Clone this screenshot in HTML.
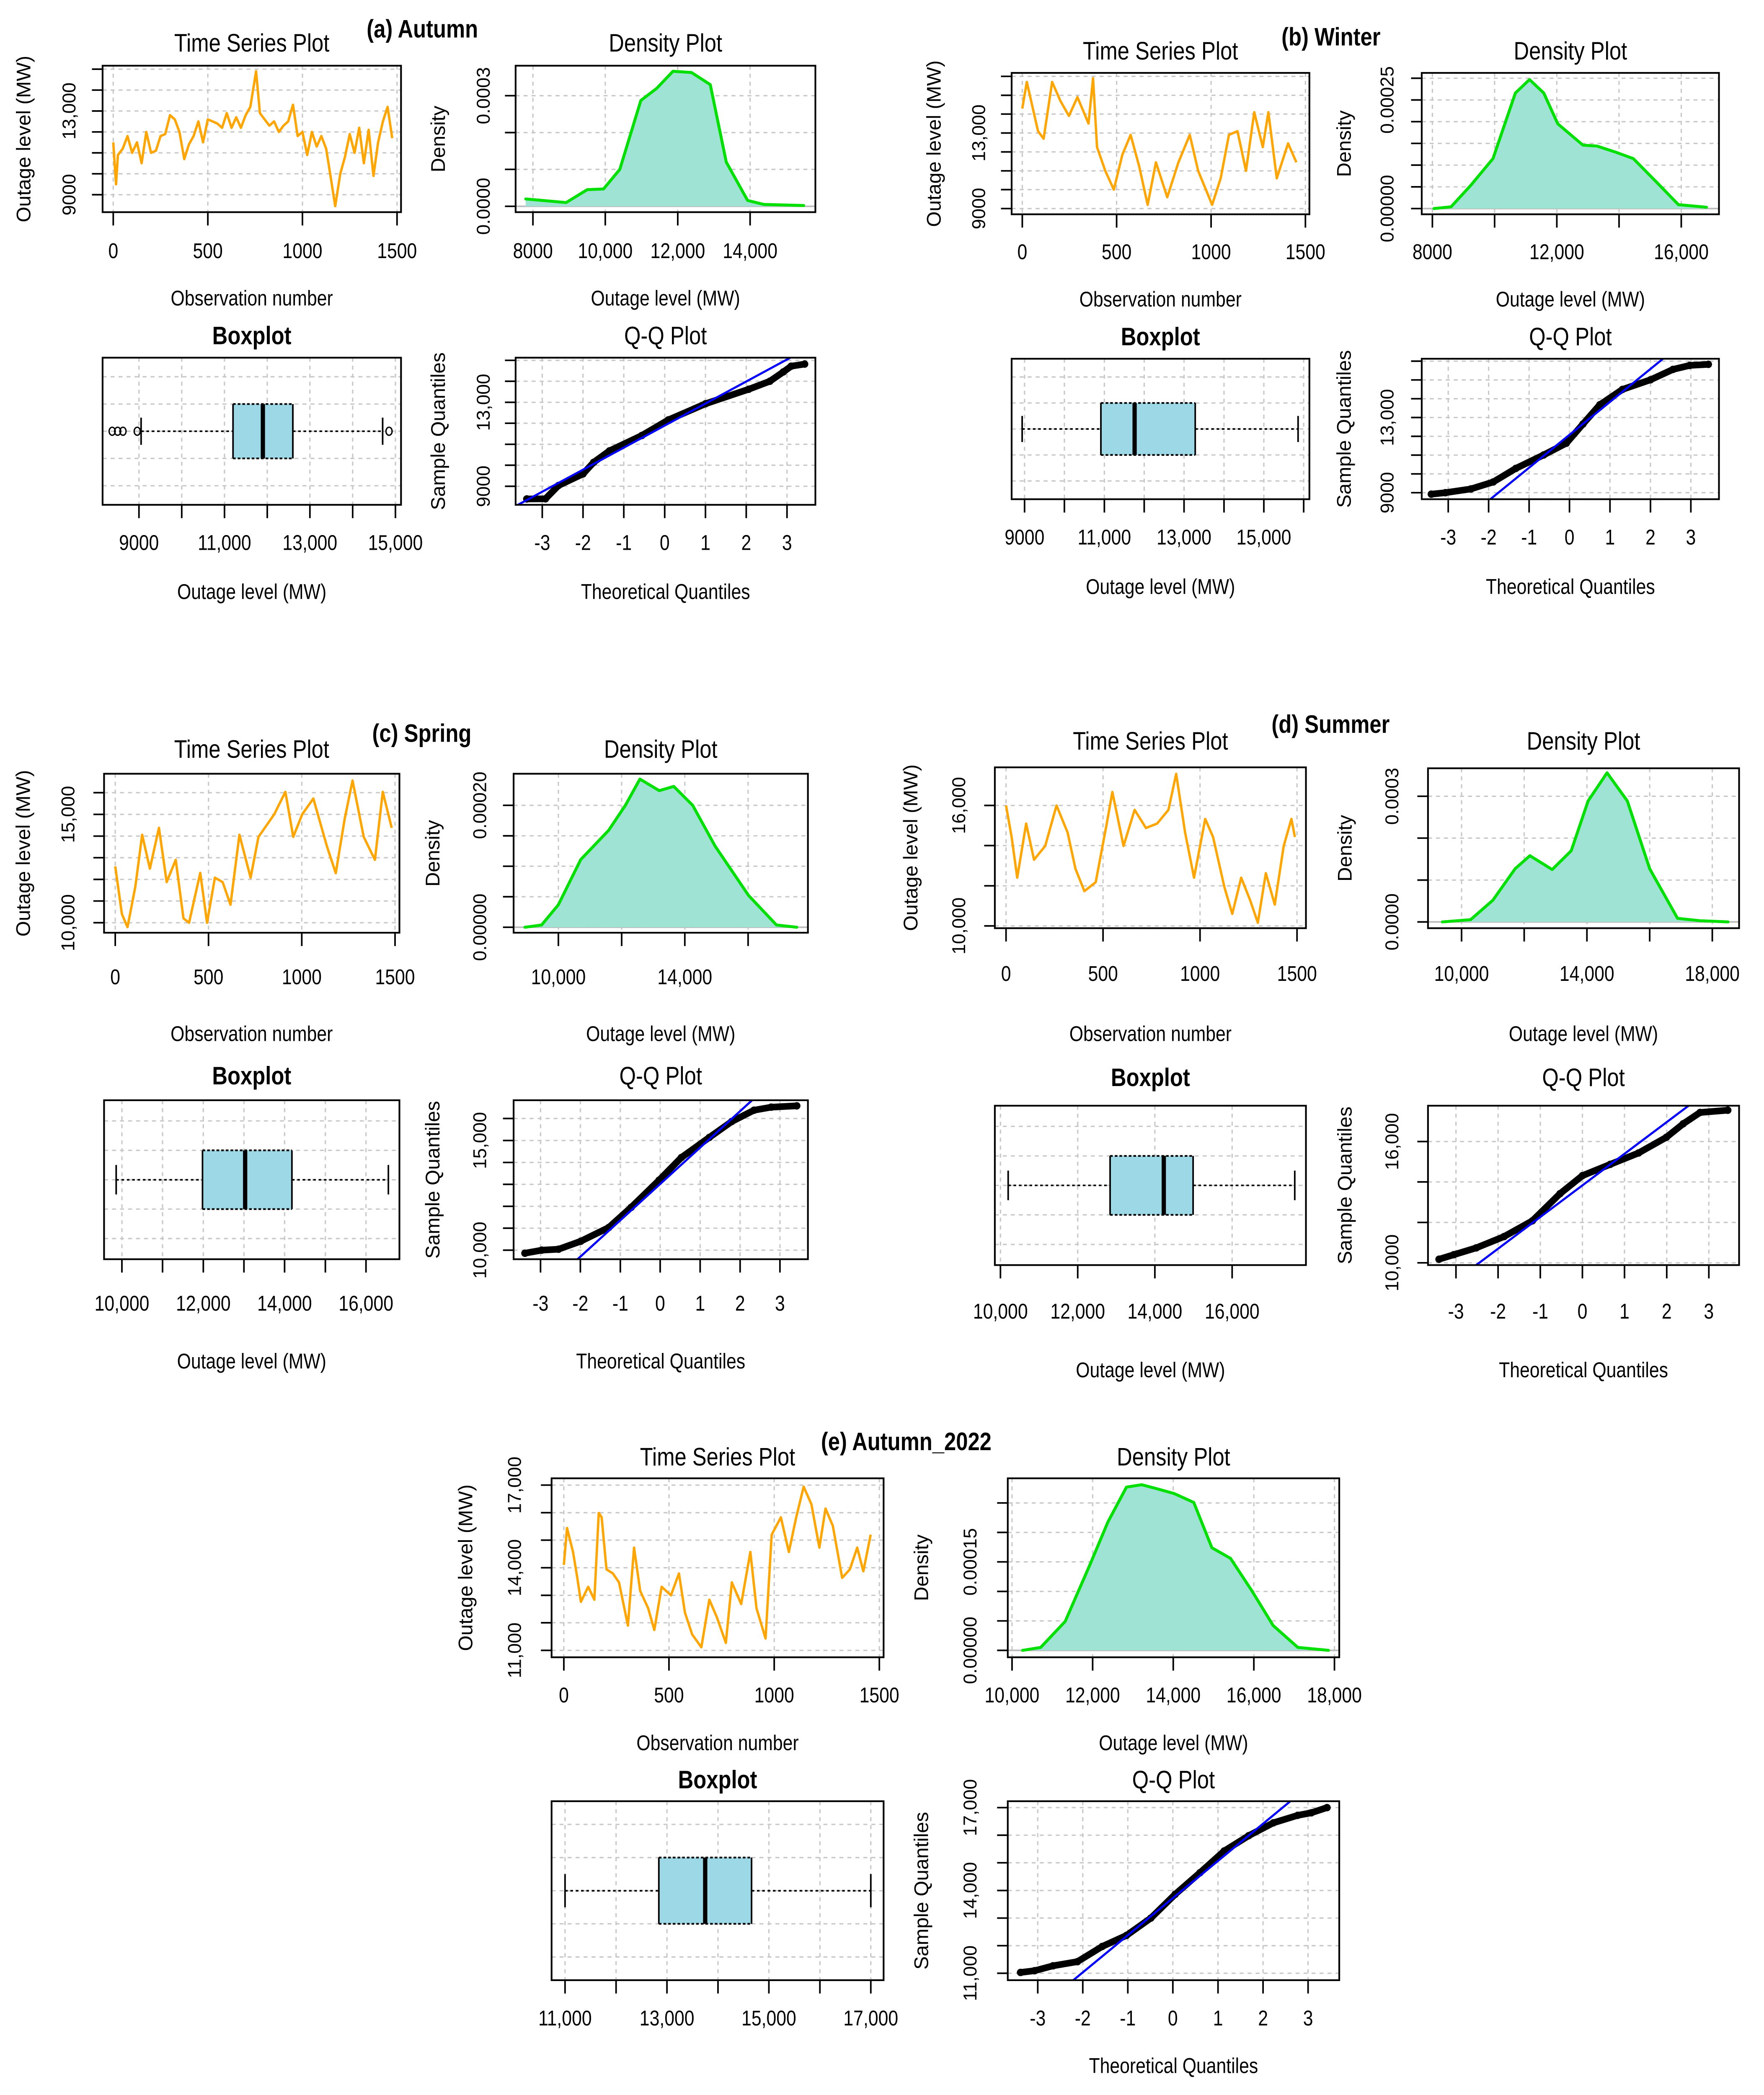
<!DOCTYPE html>
<html style="margin:0;padding:0;width:4211px;height:5010px;overflow:hidden"><head><meta charset="utf-8"><title>Outage level panels</title>
<style>html,body{margin:0;padding:0;background:#fff;overflow:hidden;width:4211px;height:5010px;position:relative}svg{display:block;position:absolute;left:0;top:0;overflow:hidden}</style></head>
<body>
<svg id="fig" xmlns="http://www.w3.org/2000/svg" width="4211" height="5010" viewBox="0 0 1324 1575.2" preserveAspectRatio="none"><rect x="0" y="0" width="1324" height="1575" fill="#fff"/></svg>
<script>
// ---------- DATA ----------
const tsA_obs=[0,15,25,50,75,100,125,150,175,200,225,250,275,300,325,350,375,400,425,450,475,500,525,550,575,600,625,650,675,700,725,755,775,800,825,850,875,900,925,950,975,1000,1025,1050,1075,1100,1125,1150,1173,1200,1225,1250,1275,1300,1325,1350,1375,1400,1425,1450,1475];
const tsA_val=[11500,9500,10900,11200,11800,11000,11500,10500,12000,11000,11100,11800,11900,12800,12600,12000,10700,11400,11800,12500,11500,12600,12500,12400,12200,12900,12200,12700,12200,12800,13200,14900,12900,12600,12300,12500,12000,12300,12500,13300,11800,12000,10900,12000,11300,11800,11200,9800,8450,10000,10800,11900,11000,12200,10500,12100,9900,11500,12500,13200,11700];
const denA_x=[7800,8915,9500,9950,10400,10980,11420,11870,12380,12900,13340,13930,14380,15480];
const denA_y=[0.00002,0.00001,0.000045,0.000047,0.0001,0.000287,0.00032,0.000366,0.000363,0.00033,0.00012,0.000016,0.000005,0.000002];
const boxA_stats=[9050,11200,11900,12600,14700];
const boxA_out=[8375,8500,8625,8960,14850];
const qqA_q=[-3.38,-2.92,-2.6,-2.0,-1.74,-1.35,-0.56,0.09,1.0,2.06,2.58,2.91,3.1,3.43];
const qqA_v=[8395,8400,9040,9590,10140,10690,11420,12160,12930,13620,14000,14450,14720,14820];
const qqA_line=[11890,1050];

const tsB_obs=[0,24,83,113,158,202,247,292,351,375,396,440,485,530,574,619,664,708,768,827,887,932,1006,1051,1095,1140,1185,1229,1274,1304,1348,1408,1452];
const tsB_val=[14300,15700,13100,12700,15700,14700,13900,14900,13500,15900,12250,11000,10000,11850,12900,11240,9200,11450,9600,11450,12900,11000,9200,10600,12900,13100,11000,14100,12250,14100,10600,12450,11450];
const denB_x=[8050,8600,9230,9950,10670,11120,11580,12030,12840,13290,13920,14460,15190,15910,16810];
const denB_y=[0,0.000004,0.000053,0.000115,0.000266,0.000297,0.000266,0.000195,0.000146,0.000144,0.000129,0.000115,0.000062,0.000009,0.000003];
const boxB_stats=[8940,10915,11760,13280,15860];
const boxB_out=[];
const qqB_q=[-3.42,-3.07,-2.44,-1.89,-1.33,-0.64,-0.08,0.33,0.75,1.31,2.0,2.56,2.97,3.43];
const qqB_v=[8920,9000,9200,9570,10290,11010,11630,12650,13680,14500,15010,15560,15770,15830];
const qqB_line=[12080,1750];

const tsC_obs=[0,36,66,108,144,186,234,276,324,366,396,456,492,534,576,618,666,726,768,852,912,954,1002,1062,1134,1182,1230,1272,1332,1392,1434,1482];
const tsC_val=[12600,10400,9800,11670,14060,12500,14380,11875,12900,10200,10000,12300,10000,12080,11875,10830,14060,12080,13960,15000,16040,13960,15000,15730,13540,12290,14790,16560,13960,12900,16040,14380];
const denC_x=[8940,9470,10000,10710,11590,12120,12580,13190,13650,14250,14960,16020,16900,17540];
const denC_y=[0,0.0000037,0.000037,0.000111,0.000159,0.0002,0.000243,0.000224,0.000231,0.0002,0.000133,0.000052,0.0000037,0];
const boxC_stats=[9860,11980,13030,14180,16550];
const boxC_out=[];
const qqC_q=[-3.39,-2.97,-2.55,-1.99,-1.29,-0.73,-0.03,0.53,1.23,1.79,2.35,2.78,3.42];
const qqC_v=[9860,10000,10040,10410,11030,11950,13190,14220,15140,15860,16380,16520,16580];
const qqC_line=[13020,1657];

const tsD_obs=[0,29,58,104,144,202,260,317,358,404,462,519,548,606,663,721,779,837,877,923,969,1027,1067,1125,1166,1212,1258,1298,1339,1385,1431,1471,1489];
const tsD_val=[16000,14430,12400,15100,13300,13980,16000,14650,12850,11730,12180,15100,16670,13980,15780,14880,15100,15780,17570,14650,12400,15330,14430,11960,10600,12400,11280,10160,12630,11060,13980,15330,14430];
const denD_x=[9390,10290,11000,11710,12180,12890,13500,14040,14640,15290,16000,16890,17610,18500];
const denD_y=[0,0.0000054,0.000052,0.000127,0.000158,0.000125,0.00017,0.000289,0.000356,0.000289,0.000127,0.0000086,0.000003,0];
const boxD_stats=[10200,12840,14230,14990,17620];
const boxD_out=[];
const qqD_q=[-3.4,-3.05,-2.52,-1.86,-1.19,-0.53,0,0.66,1.33,1.99,2.39,2.79,3.45];
const qqD_v=[10180,10400,10740,11300,12080,13420,14310,14870,15430,16210,16880,17440,17550];
const qqD_line=[13830,1565];

const tsE_obs=[0,15,44,64,81,116,145,166,180,203,233,262,305,334,363,401,430,465,509,547,576,610,654,692,727,770,799,843,887,916,959,988,1032,1070,1105,1140,1177,1215,1244,1279,1323,1360,1395,1424,1459];
const tsE_val=[14100,15440,14570,13630,12760,13310,12840,15990,15830,13940,13790,13470,11900,14730,13160,12530,11740,13310,13000,13790,12370,11580,11110,12840,12210,11270,13470,12680,14570,12530,11430,15200,15830,14570,15830,16940,16310,14730,16150,15520,13630,13940,14730,13870,15200];
const denE_x=[10260,10710,11320,11930,12380,12840,13220,13600,14020,14510,14960,15420,15950,16480,17090,17850];
const denE_y=[0,0.000005,0.000049,0.000145,0.000218,0.000277,0.000281,0.000274,0.000266,0.000251,0.000174,0.000156,0.000101,0.000042,0.000005,0];
const boxE_stats=[11000,12840,13750,14660,17000];
const boxE_out=[];
const qqE_q=[-3.38,-3.07,-2.66,-2.12,-1.57,-1.03,-0.49,0.05,0.6,1.14,1.68,2.23,2.77,3.07,3.42];
const qqE_v=[11030,11090,11270,11420,11970,12370,13000,13860,14640,15430,15980,16450,16720,16810,17000];
const qqE_line=[13725,1346];

const qTicks=[-3,-2,-1,0,1,2,3];
const qLabels=['-3','-2','-1','0','1','2','3'];
const obsTicks=[0,500,1000,1500];
const obsLabels=['0','500','1000','1500'];

// ---------- DRAWING ----------
const NS='http://www.w3.org/2000/svg';
const NARROW='"Liberation Sans Narrow","Liberation Sans",sans-serif';
const REG='"Liberation Sans",sans-serif';
const svg=document.getElementById('fig');
let clipN=0;
function mk(tag,parent){const e=document.createElementNS(NS,tag);parent.appendChild(e);return e;}
function sc(d){const[v0,p0,v1,p1]=d;return v=>p0+(v-v0)*(p1-p0)/(v1-v0);}
function inv(d){const[v0,p0,v1,p1]=d;return p=>v0+(p-p0)*(v1-v0)/(p1-p0);}
function fmt(n){return n.toFixed(1);}
function line(p,x1,y1,x2,y2,stroke,w,dash,name){
  const e=mk('line',p);
  
  
  e.setAttribute('x1',fmt(x1));e.setAttribute('y1',fmt(y1));e.setAttribute('x2',fmt(x2));e.setAttribute('y2',fmt(y2));
  e.setAttribute('stroke',stroke);e.setAttribute('stroke-width',w);if(dash)e.setAttribute('stroke-dasharray',dash);
  return e;
}
function text(p,x,y,s,size,fam,weight,rot,name){
  const e=mk('text',p);
  
  
  e.setAttribute('x',fmt(x));e.setAttribute('y',fmt(y));
  e.setAttribute('font-size',size);e.setAttribute('font-family',fam);
  if(weight)e.setAttribute('font-weight',weight);
  e.setAttribute('text-anchor','middle');e.setAttribute('dominant-baseline','central');
  if(rot)e.setAttribute('transform','rotate(-90 '+fmt(x)+' '+fmt(y)+')');
  else if(fam===NARROW)e.setAttribute('transform','translate('+fmt(x)+' 0) scale(0.84 1) translate('+fmt(-x)+' 0)');
  e.textContent=s;return e;
}
function frame(g,L){
  const b=L.box;const r=mk('rect',g);
  
  
  r.setAttribute('x',b[0]);r.setAttribute('y',b[1]);r.setAttribute('width',fmt(b[2]-b[0]));r.setAttribute('height',fmt(b[3]-b[1]));
  r.setAttribute('fill','none');r.setAttribute('stroke','#000');r.setAttribute('stroke-width',1.3);
}
function clip(g,L){
  const b=L.box;const id='c'+(clipN++);
  const cp=mk('clipPath',g);cp.setAttribute('id',id);
  const r=mk('rect',cp);r.setAttribute('x',b[0]);r.setAttribute('y',b[1]);r.setAttribute('width',b[2]-b[0]);r.setAttribute('height',b[3]-b[1]);
  const cg=mk('g',g);cg.setAttribute('clip-path','url(#'+id+')');
  
  
  return cg;
}
function xAxis(g,L,sx,ticks,labels,grid){
  const b=L.box;
  ticks.forEach((t,i)=>{const x=sx(t);
    if(grid)line(g,x,b[1],x,b[3],'#c8c8c8',1,'3 3','x-grid-line');
    line(g,x,b[3],x,b[3]+10,'#000',1.2,null,'x-tick');
    if(labels[i])text(g,x,L.tickY,labels[i],16,NARROW,null,false,'x-tick-label');
  });
}
function yAxis(g,L,sy,ticks,labels,grid){
  const b=L.box;
  ticks.forEach((t,i)=>{const y=sy(t);
    if(grid)line(g,b[0],y,b[2],y,'#c8c8c8',1,'3 3','y-grid-line');
    line(g,b[0],y,b[0]-8,y,'#000',1.2,null,'y-tick');
    if(labels[i])text(g,L.yTickX,y,labels[i],14,REG,null,true,'y-tick-label');
  });
}
function titles(g,L,title,bold,xlab,ylab){
  const cx=(L.box[0]+L.box[2])/2;
  text(g,cx,L.titleY,title,19,NARROW,bold?'bold':null,false,'plot-title');
  if(xlab)text(g,cx,L.xlabY,xlab,16,NARROW,null,false,'x-axis-title');
  if(ylab)text(g,L.ylabX,(L.box[1]+L.box[3])/2,ylab,15,REG,null,true,'y-axis-title');
}
function polyline(p,pts,stroke,w,name){
  const e=mk('polyline',p);
  
  
  e.setAttribute('points',pts.map(q=>fmt(q[0])+','+fmt(q[1])).join(' '));
  e.setAttribute('fill','none');e.setAttribute('stroke',stroke);e.setAttribute('stroke-width',w);e.setAttribute('stroke-linejoin','round');
  return e;
}
function tsPlot(L,obs,val){
  const g=mk('g',svg);
  
  
  const sx=sc(L.x),sy=sc(L.y);
  xAxis(g,L,sx,obsTicks,obsLabels,true);yAxis(g,L,sy,L.yt,L.yl,true);
  const cg=clip(g,L);
  polyline(cg,obs.map((o,i)=>[sx(o),sy(val[i])]),'#FFA500',1.8,'outage-series-line');
  frame(g,L);titles(g,L,'Time Series Plot',false,'Observation number','Outage level (MW)');
}
function denPlot(L,xs,ys){
  const g=mk('g',svg);
  
  
  const sx=sc(L.x),sy=sc(L.y);
  xAxis(g,L,sx,L.xt,L.xl,true);yAxis(g,L,sy,L.yt,L.yl,true);
  const cg=clip(g,L);
  line(cg,L.box[0],sy(0),L.box[2],sy(0),'#bbbbbb',1.2,null,'density-baseline');
  const pts=xs.map((v,i)=>[sx(v),sy(ys[i])]);
  const poly=mk('polygon',cg);
  
  
  poly.setAttribute('points',[[pts[0][0],sy(0)]].concat(pts,[[pts[pts.length-1][0],sy(0)]]).map(q=>fmt(q[0])+','+fmt(q[1])).join(' '));
  poly.setAttribute('fill','#9fe3d5');
  const pl=polyline(cg,pts,'#00e000',2.2,'density-curve');
  pl.setAttribute('stroke-linecap','round');
  frame(g,L);titles(g,L,'Density Plot',false,'Outage level (MW)','Density');
}
function boxPlot(L,st,out){
  const g=mk('g',svg);
  
  
  const sx=sc(L.x);const b=L.box;const u=(b[3]-b[1])/1.08;const cy=(b[1]+b[3])/2;
  const sy=v=>cy-(v-1)*u;
  xAxis(g,L,sx,L.xt,L.xl,true);
  [0.6,0.8,1.2,1.4].forEach(v=>line(g,b[0],sy(v),b[2],sy(v),'#c8c8c8',1,'3 3','y-grid-line'));
  line(g,b[0],cy,b[2],cy,'#c8c8c8',1,'3 3','y-grid-line');
  const[lo,q1,md,q3,hi]=st;
  line(g,sx(lo),cy,sx(q1),cy,'#000',1.2,'2 2','lower-whisker');
  line(g,sx(q3),cy,sx(hi),cy,'#000',1.2,'2 2','upper-whisker');
  line(g,sx(lo),sy(1.1),sx(lo),sy(0.9),'#000',1.2,null,'lower-staple');
  line(g,sx(hi),sy(1.1),sx(hi),sy(0.9),'#000',1.2,null,'upper-staple');
  const r=mk('rect',g);
  
  
  r.setAttribute('x',fmt(sx(q1)));r.setAttribute('y',fmt(sy(1.2)));r.setAttribute('width',fmt(sx(q3)-sx(q1)));r.setAttribute('height',fmt(sy(0.8)-sy(1.2)));r.setAttribute('fill','#9dd8e6');
  line(g,sx(q1),sy(1.2),sx(q3),sy(1.2),'#000',1.3,'2 1.5','box-top-edge');
  line(g,sx(q1),sy(0.8),sx(q3),sy(0.8),'#000',1.3,'2 1.5','box-bottom-edge');
  line(g,sx(q1),sy(1.2),sx(q1),sy(0.8),'#000',1.2,null,'box-left-edge');
  line(g,sx(q3),sy(1.2),sx(q3),sy(0.8),'#000',1.2,null,'box-right-edge');
  line(g,sx(md),sy(1.2),sx(md),sy(0.8),'#000',3.2,null,'median-line');
  out.forEach(v=>{const c=mk('ellipse',g);
    
    
    c.setAttribute('cx',fmt(sx(v)));c.setAttribute('cy',fmt(cy));c.setAttribute('rx',2.3);c.setAttribute('ry',3);c.setAttribute('fill','none');c.setAttribute('stroke','#000');c.setAttribute('stroke-width',1);});
  frame(g,L);titles(g,L,'Boxplot',true,L.xlabY?'Outage level (MW)':null,null);
}
function qqPlot(L,qs,vs,ln){
  const g=mk('g',svg);
  
  
  const sx=sc(L.x),sy=sc(L.y),ix=inv(L.x),iy=inv(L.y);
  xAxis(g,L,sx,qTicks,qLabels,true);yAxis(g,L,sy,L.yt,L.yl,true);
  const cg=clip(g,L);
  polyline(cg,qs.map((q,i)=>[sx(q),sy(vs[i])]),'#000',5,'sample-quantile-band');
  qs.forEach((q,i)=>{const c=mk('circle',cg);
    
    
    c.setAttribute('cx',fmt(sx(q)));c.setAttribute('cy',fmt(sy(vs[i])));c.setAttribute('r',2.8);c.setAttribute('fill','#000');});
  const b=L.box;
  let qa=ix(b[0]),qb=ix(b[2]);
  const vLo=iy(b[3]),vHi=iy(b[1]);
  const qLo=(vLo-ln[0])/ln[1],qHi=(vHi-ln[0])/ln[1];
  qa=Math.max(qa,qLo);qb=Math.min(qb,qHi);
  line(cg,sx(qa),sy(ln[0]+qa*ln[1]),sx(qb),sy(ln[0]+qb*ln[1]),'#0000ff',1.6,null,'qq-reference-line');
  frame(g,L);titles(g,L,'Q-Q Plot',false,'Theoretical Quantiles','Sample Quantiles');
}
function panelLabel(x,y,s){text(svg,x,y,s,19,NARROW,'bold',false,'panel-label');}
function rng(a,b,s){const r=[];for(let v=a;v<=b+1e-9;v+=s)r.push(+v.toFixed(6));return r;}

// ---- Panel (a)
tsPlot({box:[77,49.3,301,159.2],x:[0,85,1500,298],y:[9000,146.1,13000,83.3],yt:rng(9000,15000,1000),yl:['9000','','','','13,000','',''],tickY:188,xlabY:223.6,titleY:32,ylabX:18,yTickX:52},tsA_obs,tsA_val);
denPlot({box:[387,49.3,612,159.2],x:[8000,400,14000,563],y:[0,154.8,0.0003,71.8],xt:[8000,10000,12000,14000],xl:['8000','10,000','12,000','14,000'],yt:[0,0.0001,0.0002,0.0003],yl:['0.0000','','','0.0003'],tickY:188,xlabY:223.6,titleY:32,ylabX:329,yTickX:363},denA_x,denA_y);
boxPlot({box:[77,268.4,301,378.8],x:[9000,104.3,15000,296.8],xt:rng(9000,15000,1000),xl:['9000','','11,000','','13,000','','15,000'],tickY:407,xlabY:443.8,titleY:251.6},boxA_stats,boxA_out);
qqPlot({box:[387,268.4,612,378.8],x:[-3,407,3,590.7],y:[9000,364.9,13000,301.9],yt:rng(9000,15000,1000),yl:['9000','','','','13,000','',''],tickY:407,xlabY:443.8,titleY:251.6,ylabX:329,yTickX:363},qqA_q,qqA_v,qqA_line);
panelLabel(317,21.5,'(a) Autumn');

// ---- Panel (b)
tsPlot({box:[759.3,54.7,982.8,160.8],x:[0,767.3,1500,979.8],y:[9000,156.5,13000,99.8],yt:rng(9000,16000,1000),yl:['9000','','','','13,000','','',''],tickY:188.8,xlabY:224.4,titleY:38,ylabX:701.1,yTickX:734.8},tsB_obs,tsB_val);
denPlot({box:[1067.1,54.7,1290.2,160.8],x:[8000,1075.1,16000,1261.9],y:[0,156.5,0.00025,75],xt:[8000,10000,12000,14000,16000],xl:['8000','','12,000','','16,000'],yt:rng(0,0.0003,0.00005),yl:['0.00000','','','','','0.00025',''],tickY:188.8,xlabY:224.4,titleY:38,ylabX:1008.9,yTickX:1041.4},denB_x,denB_y);
boxPlot({box:[759.3,269.2,982.8,374.6],x:[9000,769,15000,948.6],xt:rng(9000,16000,1000),xl:['9000','','11,000','','13,000','','15,000',''],tickY:403,xlabY:440,titleY:252.4},boxB_stats,boxB_out);
qqPlot({box:[1067.1,269.2,1290.2,374.6],x:[-3,1087,3,1269.1],y:[9000,369.7,13000,313.3],yt:rng(9000,16000,1000),yl:['9000','','','','13,000','','',''],tickY:403,xlabY:440,titleY:252.4,ylabX:1008.9,yTickX:1041.4},qqB_q,qqB_v,qqB_line);
panelLabel(999,27.5,'(b) Winter');

// ---- Panel (c)
tsPlot({box:[78.1,580.6,299.8,699.9],x:[0,86.5,1500,296.5],y:[10000,692.4,15000,611.1],yt:rng(10000,16000,1000),yl:['10,000','','','','','15,000',''],tickY:733,xlabY:775.5,titleY:562,ylabX:17.6,yTickX:51.2},tsC_obs,tsC_val);
denPlot({box:[385.5,580.6,606.4,699.9],x:[10000,419.1,14000,514],xt:[10000,12000,14000,16000],xl:['10,000','','14,000',''],y:[0,695.8,0.0002,604.3],yt:rng(0,0.0002,0.00005),yl:['0.00000','','','','0.00020'],tickY:733,xlabY:775.5,titleY:562,ylabX:325,yTickX:360.3},denC_x,denC_y);
boxPlot({box:[78.1,825.6,299.8,944.9],x:[10000,91.5,16000,274.7],xt:rng(10000,16000,1000),xl:['10,000','','12,000','','14,000','','16,000'],tickY:977.8,xlabY:1021.2,titleY:807},boxC_stats,boxC_out);
qqPlot({box:[385.5,825.6,606.4,944.9],x:[-3,405.7,3,585.4],y:[10000,938.1,15000,855.8],yt:rng(10000,16000,1000),yl:['10,000','','','','','15,000',''],tickY:977.8,xlabY:1021.2,titleY:807,ylabX:325,yTickX:360.3},qqC_q,qqC_v,qqC_line);
panelLabel(316.6,550,'(c) Spring');

// ---- Panel (d)
tsPlot({box:[746.7,575.8,980.2,696.5],x:[0,755.1,1500,973.5],y:[10000,694.8,16000,604.4],yt:[10000,12000,14000,16000],yl:['10,000','','','16,000'],tickY:730.4,xlabY:775.5,titleY:555.9,ylabX:683.7,yTickX:719.8},tsD_obs,tsD_val);
denPlot({box:[1071.8,576.5,1305.3,696.5],x:[10000,1097,18000,1285.2],xt:[10000,12000,14000,16000,18000],xl:['10,000','','14,000','','18,000'],y:[0,691.8,0.0003,597.5],yt:[0,0.0001,0.0002,0.0003],yl:['0.0000','','','0.0003'],tickY:730.4,xlabY:775.5,titleY:555.9,ylabX:1009.6,yTickX:1044.9},denD_x,denD_y);
boxPlot({box:[746.7,829.7,980.2,949.3],x:[10000,750.9,16000,924.8],xt:[10000,12000,14000,16000],xl:['10,000','12,000','14,000','16,000'],tickY:983.9,xlabY:1027.9,titleY:808.3},boxD_stats,boxD_out);
qqPlot({box:[1071.8,829.7,1305.3,949.3],x:[-3,1092.8,3,1282.6],y:[10000,947.6,16000,856.6],yt:[10000,12000,14000,16000],yl:['10,000','','','16,000'],tickY:983.9,xlabY:1027.9,titleY:808.3,ylabX:1009.6,yTickX:1044.9},qqD_q,qqD_v,qqD_line);
panelLabel(998.7,543.3,'(d) Summer');

// ---- Panel (e)
tsPlot({box:[414,1109.3,663.2,1243.6],x:[0,423.2,1500,660],y:[11000,1238.4,17000,1114.4],yt:rng(11000,17000,1000),yl:['11,000','','','14,000','','','17,000'],tickY:1271.9,xlabY:1307.7,titleY:1093,ylabX:349.7,yTickX:386.4},tsE_obs,tsE_val);
denPlot({box:[756.4,1109.3,1005.2,1243.6],x:[10000,759.6,18000,1001.6],xt:rng(10000,18000,2000),xl:['10,000','12,000','14,000','16,000','18,000'],y:[0,1238.4,0.00025,1127.8],yt:rng(0,0.00025,0.00005),yl:['0.00000','','','0.00015','',''],tickY:1271.9,xlabY:1307.7,titleY:1093,ylabX:691.7,yTickX:728.4},denE_x,denE_y);
boxPlot({box:[414,1351.6,663.2,1485.9],x:[11000,424.1,17000,653.6],xt:rng(11000,17000,1000),xl:['11,000','','13,000','','15,000','','17,000'],tickY:1514.3,xlabY:null,titleY:1335.3},boxE_stats,boxE_out);
qqPlot({box:[756.4,1351.6,1005.2,1485.9],x:[-3,778.9,3,981.8],y:[11000,1480.7,17000,1356.4],yt:rng(11000,17000,1000),yl:['11,000','','','14,000','','','17,000'],tickY:1514.3,xlabY:1550,titleY:1335.3,ylabX:691.7,yTickX:728.4},qqE_q,qqE_v,qqE_line);
panelLabel(680.2,1081.6,'(e) Autumn_2022');
</script>
</body></html>
